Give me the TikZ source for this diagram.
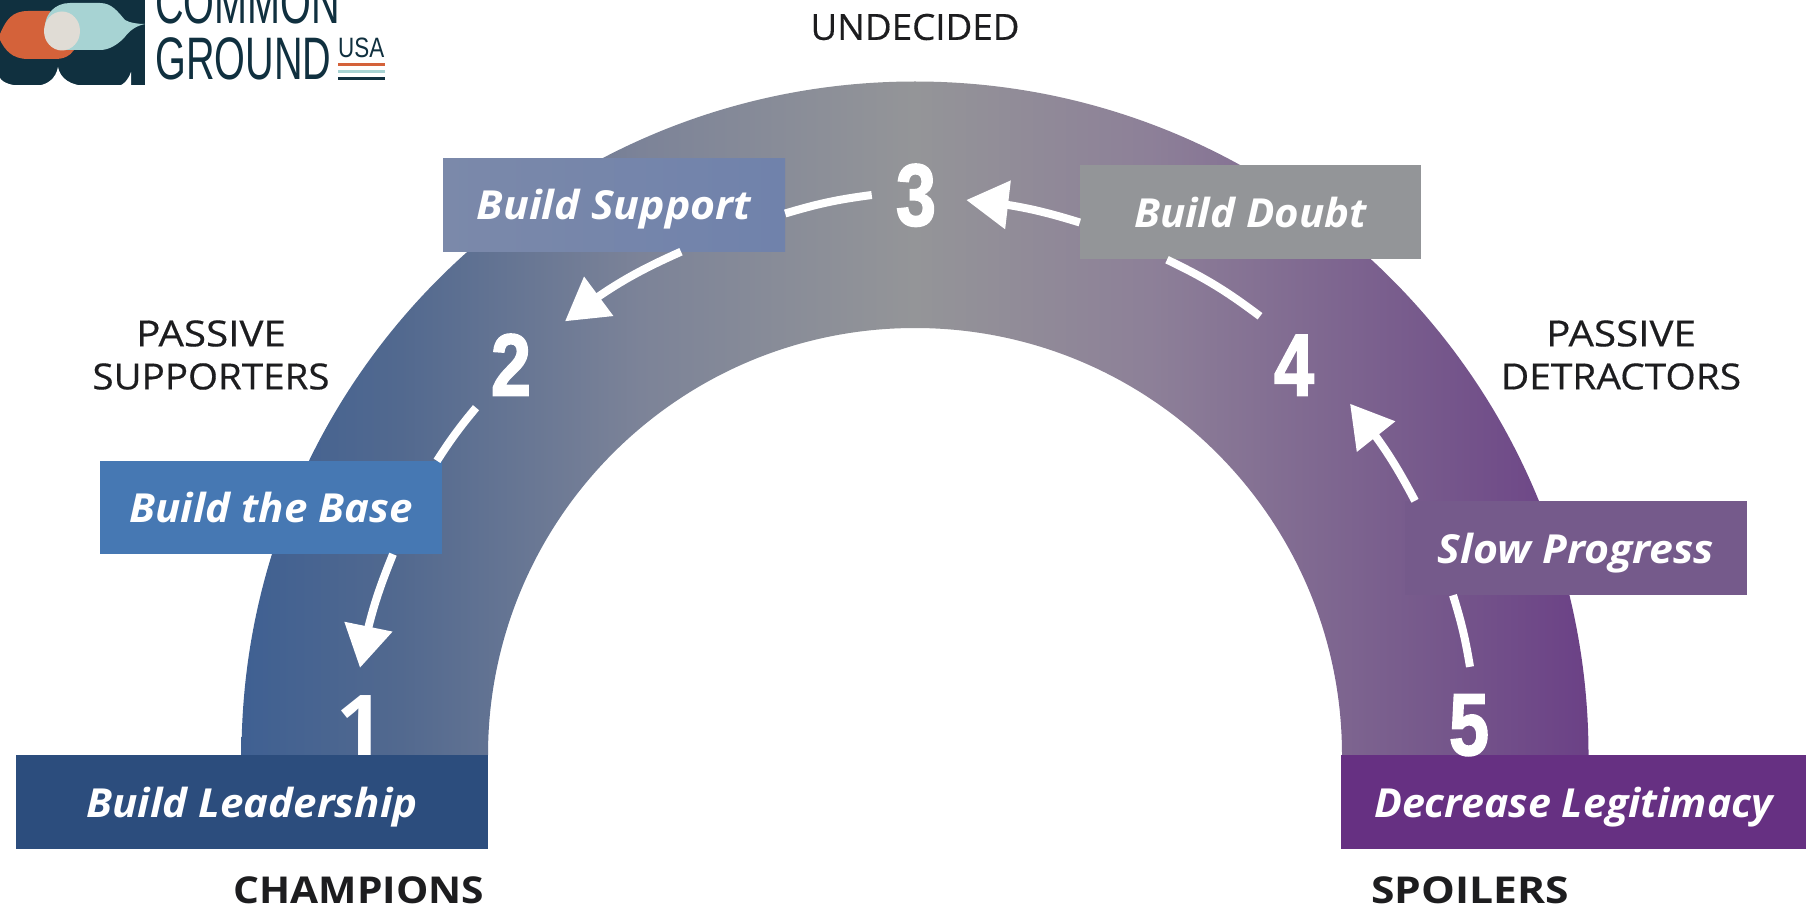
\documentclass[tikz,border=0pt]{standalone}
\usepackage{fontspec}
\usepackage{graphicx}
\setmainfont{Open Sans}
\newfontfamily\labelfont[FakeBold=0.4]{Open Sans}
\newfontfamily\numfont[BoldFeatures={FakeBold=2}]{Liberation Sans}
\newfontfamily\onefont{Open Sans}
\newfontfamily\logofont{Liberation Sans}
\usetikzlibrary{arrows.meta,bending}
\definecolor{c0}{HTML}{3F6092}
\definecolor{c1}{HTML}{52698F}
\definecolor{c2}{HTML}{7C8398}
\definecolor{c3}{HTML}{949598}
\definecolor{c4}{HTML}{8D8098}
\definecolor{c5}{HTML}{775A8C}
\definecolor{c6}{HTML}{6B4186}
\definecolor{logodark}{HTML}{10303F}
\definecolor{logoorange}{HTML}{D4623A}
\definecolor{logoteal}{HTML}{A7D3D3}
\definecolor{logomid}{HTML}{E0DCD5}
\definecolor{inkdark}{HTML}{1D1D1F}
\pgfdeclarehorizontalshading{archshade}{100bp}{
 color(0bp)=(c0); color(25bp)=(c0); color(30.9bp)=(c1); color(39.8bp)=(c2);
 color(50bp)=(c3); color(58.7bp)=(c4); color(68.7bp)=(c5); color(75bp)=(c6); color(100bp)=(c6)}
\tikzset{
 stagebox/.style={rectangle,inner sep=0pt,text=white,text height=30pt,text depth=0pt,font=\fontsize{40}{40}\selectfont\bfseries\itshape},
 stagenum/.style={inner sep=0pt,text=white,minimum width=40pt,text height=63pt,text depth=0pt,font=\fontsize{88}{88}\numfont\bfseries},
 grouplabel/.style={inner sep=0pt,text=inkdark,align=center,font=\fontsize{36}{43}\labelfont},
 groupbold/.style={inner sep=0pt,text=inkdark,font=\fontsize{37}{37}\selectfont\bfseries},
 flow/.style={draw=white,line width=8pt,line cap=butt},
 flowtip/.style={flow,-{Triangle[length=42pt,width=47pt,flex]}},
 logotext/.style={inner sep=0pt,text=logodark,font=\fontsize{60}{60}\logofont}
}
\newcommand{\narrowed}[2]{\scalebox{#1}[1]{#2}}
\begin{document}
\begin{tikzpicture}[x=1pt,y=1pt]
\useasboundingbox (0,0) rectangle (1806,-909);
\fill[white] (0,0) rectangle (1806,-909);
% arch
\path[shading=archshade] (241.5,-755) arc[start angle=180,end angle=0,radius=673.5] -- (1342,-755) arc[start angle=0,end angle=180,radius=427] -- cycle;
% boxes
\node[stagebox,fill={rgb,255:red,44;green,77;blue,125},minimum width=472pt,minimum height=94pt] (lead) at (252,-802) {\narrowed{1.05}{Build Leadership}};
\node[stagebox,fill={rgb,255:red,102;green,48;blue,130},minimum width=465pt,minimum height=94pt] (dec) at (1573.5,-802) {\narrowed{1.03}{Decrease Legitimacy}};
\node[stagebox,fill={rgb,255:red,70;green,120;blue,179},minimum width=342pt,minimum height=93pt] (base) at (271,-507.5) {\narrowed{1.05}{Build the Base}};
\node[stagebox,fill={rgb,255:red,117;green,90;blue,139},minimum width=342pt,minimum height=94pt] (slow) at (1576,-548) {\narrowed{1.07}{Slow Progress}};
\node[stagebox,left color={rgb,255:red,123;green,137;blue,170},right color={rgb,255:red,112;green,130;blue,171},minimum width=342pt,minimum height=93pt] (support) at (614,-205) {\narrowed{1.07}{Build Support}};
\node[stagebox,fill={rgb,255:red,147;green,149;blue,152},minimum width=341pt,minimum height=94pt] (doubt) at (1250.5,-212.5) {\narrowed{1.05}{Build Doubt}};
% numbers
\node[stagenum,font=\fontsize{84}{84}\onefont\bfseries] (n1) at (360,-723.5) {1};
\node[stagenum] (n2) at (511,-364) {\narrowed{.82}{2}};
\node[stagenum] (n3) at (916,-194) {\narrowed{.82}{3}};
\node[stagenum] (n4) at (1294,-364) {\narrowed{.82}{4}};
\node[stagenum] (n5) at (1469,-723.5) {\narrowed{.82}{5}};
% connectors
\draw[flowtip] ([xshift=122pt]base.south) to[bend right=6] ([yshift=24pt]n1.north);
\draw[flow] ([xshift=-35pt,yshift=-12pt]n2.south) to[bend right=3.5] ([xshift=166pt]base.north);
\draw[flowtip] ([xshift=67pt]support.south) to[bend right=7] ([xshift=54pt,yshift=11pt]n2.north);
\draw[flow] ([xshift=-24pt,yshift=-1pt]n3.west) to[bend right=4.6] ([yshift=-8.5pt]support.east);
\draw[flowtip] ([yshift=-10pt]doubt.west) to[bend right=6] ([xshift=30pt,yshift=-6pt]n3.east);
\draw[flow] ([xshift=-34pt,yshift=16pt]n4.north) to[bend right=5.7] ([xshift=-83.5pt]doubt.south);
\draw[flowtip] ([xshift=-161pt]slow.north) to[bend right=6] ([xshift=56pt,yshift=-8pt]n4.south);
\draw[flow] ([xshift=1pt,yshift=25pt]n5.north) to[bend right=3.9] ([xshift=-123pt]slow.south);
% group labels
\node[grouplabel] (undecided) at (915,-27) {\narrowed{1.02}{UNDECIDED}};
\node[grouplabel] (passup) at (211,-355) {\narrowed{1.12}{PASSIVE}\\\narrowed{1.07}{SUPPORTERS}};
\node[grouplabel] (pasdet) at (1621,-355) {\narrowed{1.12}{PASSIVE}\\\narrowed{1.08}{DETRACTORS}};
\node[groupbold] (champions) at (359,-890) {\narrowed{1.1}{CHAMPIONS}};
\node[groupbold] (spoilers) at (1470,-890) {\narrowed{1.15}{SPOILERS}};
% logo
\fill[logodark] (0,0) rectangle (145,-85);
\fill[white] (0,-78) .. controls (3,-83) and (12,-86) .. (25,-86) -- (0,-86) -- cycle;
\fill[white] (33,-86) .. controls (48,-86) and (56,-78) .. (58,-67) .. controls (60,-78) and (70,-86) .. (88,-86) -- cycle;
\fill[white] (118,-86) .. controls (124,-85) and (128,-80) .. (131,-72) -- (131,-86) -- cycle;
\fill[logoorange] (0,-34) .. controls (6,-20) and (12,-11) .. (28,-11) -- (50,-11) -- (74,-50) .. controls (70,-56) and (64,-59) .. (55,-59) -- (28,-59) .. controls (12,-59) and (5,-50) .. (0,-40) -- cycle;
\fill[logoteal] (70,-3) -- (100,-3) .. controls (112,-3) and (118,-12) .. (125,-20) .. controls (130,-23) and (138,-24) .. (145,-24) .. controls (136,-26) and (130,-30) .. (124,-38) .. controls (116,-46) and (108,-50) .. (100,-50) -- (70,-50) .. controls (55,-50) and (45,-40) .. (45,-27) .. controls (45,-14) and (55,-3) .. (70,-3) -- cycle;
\fill[logomid] (62,-31) ellipse[x radius=18pt,y radius=19.5pt];
\node[logotext,anchor=base west] (logocommon) at (155,-24) {\narrowed{.66}{COMMON}};
\node[logotext,anchor=base west] (logoground) at (155,-80) {\narrowed{.66}{GROUND}};
\node[inner sep=0pt,text=logodark,anchor=base west,font=\fontsize{28}{28}\logofont] (logousa) at (338,-58) {\narrowed{.8}{USA}};
\fill[logoorange] (338,-63) rectangle (385,-66);
\fill[logoteal] (338,-70) rectangle (385,-73);
\fill[logodark] (338,-77) rectangle (385,-80);
\end{tikzpicture}
\end{document}
